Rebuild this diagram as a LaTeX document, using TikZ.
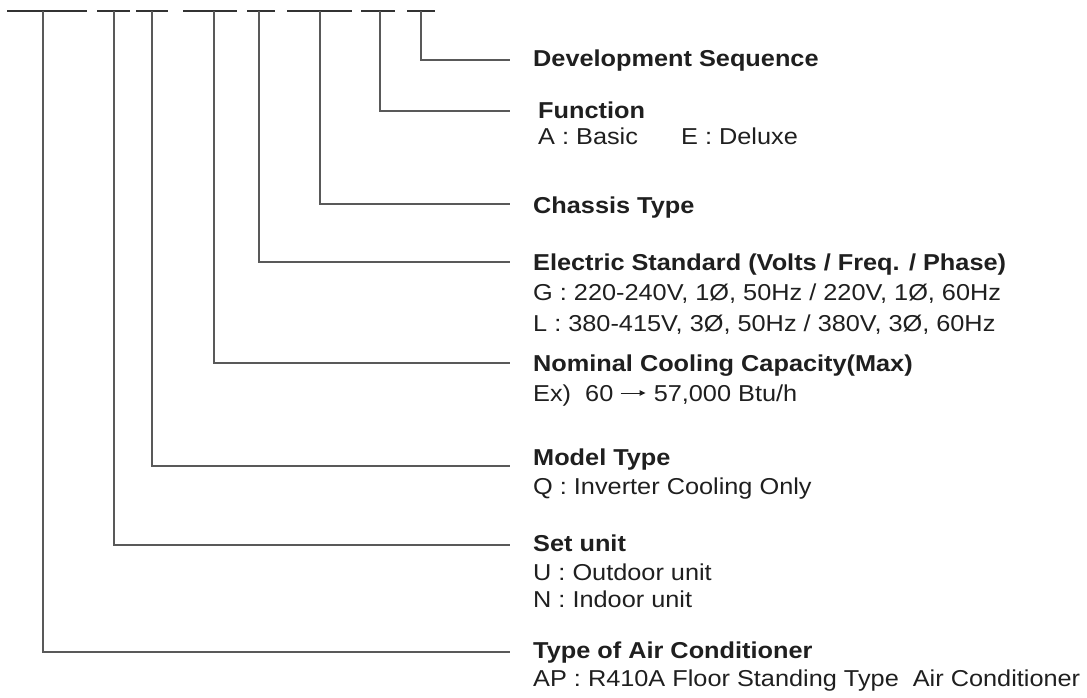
\documentclass[tikz,border=0pt]{standalone}
\usepackage{fontspec}
\setmainfont[FakeStretch=1.1]{Liberation Sans}
\usetikzlibrary{arrows.meta}
\begin{document}
\begin{tikzpicture}[x=1pt,y=-1pt,
  bar/.style={line width=2.6pt, draw=black!80},
  lead/.style={line width=1.5pt, draw=black!65},
  lbl/.style={anchor=base west, inner sep=0pt, font=\fontsize{23}{28}\selectfont, text=black!88},
  hd/.style={lbl, font=\fontsize{23}{28}\selectfont\bfseries},
  exarrow/.style={line width=0.9pt, draw=black!88, -{Triangle[length=6pt,width=5.5pt]}}]
\useasboundingbox (0,0) rectangle (1087,698);
% top segment bars
\draw[bar] (7,11) -- (87,11);
\draw[bar] (97,11) -- (130,11);
\draw[bar] (136,11) -- (168,11);
\draw[bar] (183,11) -- (237,11);
\draw[bar] (247,11) -- (275,11);
\draw[bar] (287,11) -- (352,11);
\draw[bar] (361,11) -- (395,11);
\draw[bar] (407,11) -- (435,11);
% top points of the leaders
\coordinate (t1) at (43,11);
\coordinate (t2) at (114,11);
\coordinate (t3) at (152,11);
\coordinate (t4) at (214,11);
\coordinate (t5) at (259,11);
\coordinate (t6) at (320,11);
\coordinate (t7) at (380,11);
\coordinate (t8) at (421,11);
% leader ends
\coordinate (e8) at (510,60);
\coordinate (e7) at (510,111);
\coordinate (e6) at (510,204);
\coordinate (e5) at (510,262);
\coordinate (e4) at (510,363);
\coordinate (e3) at (510,466);
\coordinate (e2) at (510,545);
\coordinate (e1) at (510,652);
% labels
\node[hd] (dev) at (533,67) {Development Sequence};
\node[hd] (fun) at (538,119) {Function};
\node[lbl] (funA) at (538,145) {A : Basic};
\node[lbl] (funE) at (681,145) {E : Deluxe};
\node[hd] (cha) at (533,213) {Chassis Type};
\node[hd] (ele) at (533,270) {Electric Standard (Volts / Freq. / Phase)};
\node[lbl] (eleG) at (533,300) {G : 220-240V, 1Ø, 50Hz / 220V, 1Ø, 60Hz};
\node[lbl] (eleL) at (533,331) {L : 380-415V, 3Ø, 50Hz / 380V, 3Ø, 60Hz};
\node[hd] (nom) at (533,371) {Nominal Cooling Capacity(Max)};
\node[lbl] (nomEx) at (533,401) {Ex)\ \ 60};
\node[lbl] (nomV) at ([xshift=40pt]nomEx.base east) {57,000 Btu/h};
\draw[exarrow] ([xshift=7pt,yshift=8pt]nomEx.base east) -- ([xshift=-8pt,yshift=8pt]nomV.base west);
\node[hd] (mod) at (533,465) {Model Type};
\node[lbl] (modQ) at (533,494) {Q : Inverter Cooling Only};
\node[hd] (set) at (533,551) {Set unit};
\node[lbl] (setU) at (533,580) {U : Outdoor unit};
\node[lbl] (setN) at (533,607) {N : Indoor unit};
\node[hd] (typ) at (533,658) {Type of Air Conditioner};
\node[lbl] (typAP) at (533,686) {AP : R410A Floor Standing Type\ \ Air Conditioner};
% leaders
\foreach \i in {1,...,8} { \draw[lead] (t\i) |- (e\i); }
\end{tikzpicture}
\end{document}
